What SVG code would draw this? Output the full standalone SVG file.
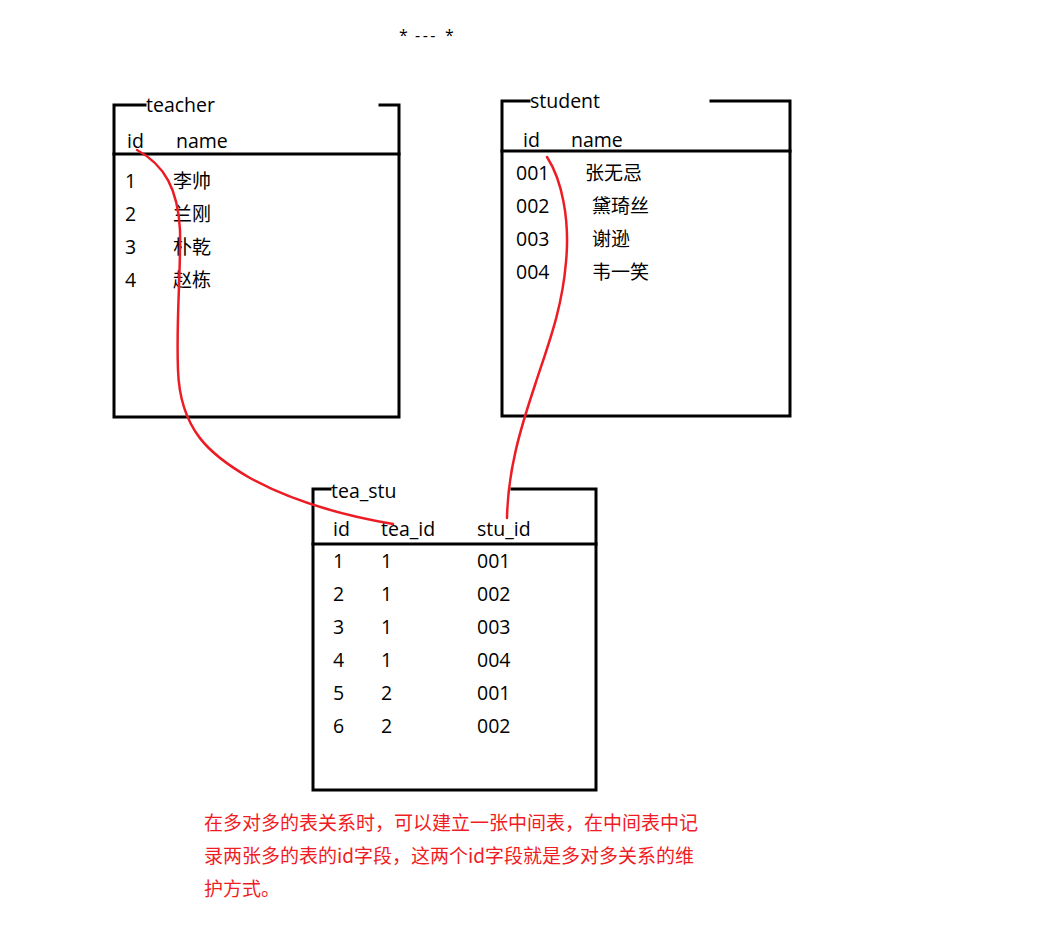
<svg xmlns="http://www.w3.org/2000/svg" width="1056" height="925" viewBox="0 0 1056 925">
<style>
.box{fill:none;stroke:#000;stroke-width:3;stroke-linecap:square}
.t{font-family:"Open Sans","Noto Sans CJK SC",sans-serif;font-size:19.5px;fill:#000}
.c{font-family:"Noto Sans CJK SC",sans-serif;font-size:19px;fill:#000}
.red{font-family:"Noto Sans CJK SC",sans-serif;font-size:19px;fill:#f01c24}
.link{fill:none;stroke:#ed1c24;stroke-width:2.5;stroke-linecap:round}
</style>
<rect width="1056" height="925" fill="#fff"/>
<g class="t" style="font-size:16px">
<text x="399" y="41">*</text>
<text x="415" y="41" style="letter-spacing:2.5px">---</text>
<text x="445" y="41">*</text>
</g>
<g id="teacher">
<path class="box" d="M145,105 H114 V417 H399 V105 H380"/>
<line class="box" x1="114" y1="154" x2="399" y2="154"/>
<text x="146" y="112" class="t">teacher</text>
<text x="127" y="148" class="t">id</text>
<text x="176" y="148" class="t">name</text>
<text x="125" y="188" class="t">1</text><text x="173" y="188" class="c">李帅</text>
<text x="125" y="221" class="t">2</text><text x="173" y="221" class="c">兰刚</text>
<text x="125" y="254" class="t">3</text><text x="173" y="254" class="c">朴乾</text>
<text x="125" y="287" class="t">4</text><text x="173" y="287" class="c">赵栋</text>
</g>
<g id="student">
<path class="box" d="M529,101 H502 V416 H790 V101 H711"/>
<line class="box" x1="502" y1="151" x2="790" y2="151"/>
<text x="530" y="108" class="t">student</text>
<text x="523" y="147" class="t">id</text>
<text x="571" y="147" class="t">name</text>
<text x="516" y="180" class="t">001</text><text x="585" y="180" class="c">张无忌</text>
<text x="516" y="213" class="t">002</text><text x="592" y="213" class="c">黛琦丝</text>
<text x="516" y="246" class="t">003</text><text x="592" y="246" class="c">谢逊</text>
<text x="516" y="279" class="t">004</text><text x="592" y="279" class="c">韦一笑</text>
</g>
<g id="tea_stu">
<path class="box" d="M330,489 H313 V790 H596 V489 H512"/>
<line class="box" x1="313" y1="544" x2="596" y2="544"/>
<text x="331" y="498" class="t">tea_stu</text>
<text x="333" y="536" class="t">id</text>
<text x="381" y="536" class="t">tea_id</text>
<text x="477" y="536" class="t">stu_id</text>
<g class="t">
<text x="333" y="568">1</text><text x="381" y="568">1</text><text x="477" y="568">001</text>
<text x="333" y="601">2</text><text x="381" y="601">1</text><text x="477" y="601">002</text>
<text x="333" y="634">3</text><text x="381" y="634">1</text><text x="477" y="634">003</text>
<text x="333" y="667">4</text><text x="381" y="667">1</text><text x="477" y="667">004</text>
<text x="333" y="700">5</text><text x="381" y="700">2</text><text x="477" y="700">001</text>
<text x="333" y="733">6</text><text x="381" y="733">2</text><text x="477" y="733">002</text>
</g>
</g>
<g id="connectors">
<path class="link" d="M137,150 C165,165 178,190 180,230 C181,270 176,320 178,370 C180,430 210,455 250,478 C290,500 340,515 393,524"/>
<path class="link" d="M547,157 C562,180 570,220 566,262 C562,310 548,345 535,385 C520,430 508,470 507,518"/>
</g>
<g id="note">
<text x="204" y="830" class="red">在多对多的表关系时，可以建立一张中间表，在中间表中记</text>
<text x="204" y="863" class="red">录两张多的表的id字段，这两个id字段就是多对多关系的维</text>
<text x="204" y="896" class="red">护方式。</text>
</g>
</svg>
